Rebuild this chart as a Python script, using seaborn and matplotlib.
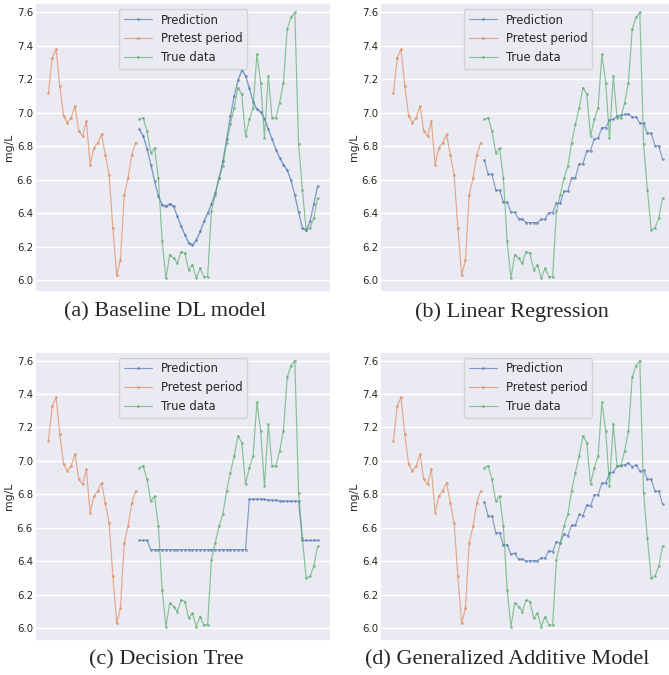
import matplotlib
matplotlib.use("Agg")
import matplotlib.pyplot as plt
import seaborn as sns
import numpy as np

sns.set_theme(style="darkgrid")

# ---- data ----
pretest = [7.12, 7.33, 7.38, 7.16, 6.98, 6.94, 6.97, 7.04, 6.89, 6.86, 6.95, 6.69,
           6.79, 6.82, 6.87, 6.75, 6.63, 6.31, 6.03, 6.12, 6.51, 6.61, 6.75, 6.82]
true_data = [6.96, 6.97, 6.89, 6.76, 6.79, 6.61, 6.23, 6.01, 6.15, 6.13, 6.10, 6.17,
             6.16, 6.06, 6.09, 6.01, 6.07, 6.02, 6.02, 6.41, 6.51, 6.61, 6.68, 6.82,
             6.93, 7.03, 7.15, 7.11, 6.86, 6.96, 7.03, 7.35, 7.18, 6.85, 7.22, 6.97,
             6.97, 7.06, 7.18, 7.50, 7.57, 7.60, 6.81, 6.54, 6.30, 6.31, 6.37, 6.49]
pred_dl = [6.90, 6.86, 6.785, 6.69, 6.59, 6.50, 6.45, 6.44, 6.455, 6.44, 6.38, 6.32,
           6.27, 6.22, 6.21, 6.24, 6.29, 6.35, 6.40, 6.455, 6.52, 6.61, 6.71, 6.84,
           6.98, 7.10, 7.195, 7.255, 7.22, 7.145, 7.065, 7.02, 7.005, 6.965, 6.90, 6.84,
           6.78, 6.73, 6.69, 6.655, 6.595, 6.505, 6.405, 6.31, 6.30, 6.35, 6.455, 6.56]
pred_lr = [6.717, 6.632, 6.632, 6.536, 6.536, 6.465, 6.465, 6.405, 6.405, 6.365, 6.365, 6.343,
           6.343, 6.343, 6.343, 6.363, 6.363, 6.403, 6.403, 6.46, 6.46, 6.53, 6.53, 6.612,
           6.612, 6.694, 6.694, 6.773, 6.773, 6.845, 6.849, 6.911, 6.911, 6.957, 6.96, 6.98,
           6.984, 6.99, 6.992, 6.975, 6.975, 6.937, 6.937, 6.877, 6.877, 6.803, 6.803, 6.722]
pred_dt = [6.525, 6.525, 6.525, 6.47, 6.47, 6.47, 6.47, 6.47, 6.47, 6.47, 6.47, 6.47,
           6.47, 6.47, 6.47, 6.47, 6.47, 6.47, 6.47, 6.47, 6.47, 6.47, 6.47, 6.47,
           6.47, 6.47, 6.47, 6.47, 6.47, 6.772, 6.772, 6.772, 6.772, 6.770, 6.768, 6.766,
           6.764, 6.762, 6.76, 6.76, 6.76, 6.76, 6.76, 6.525, 6.525, 6.525, 6.525, 6.525]
pred_gam = [6.754, 6.671, 6.671, 6.571, 6.571, 6.497, 6.499, 6.444, 6.448, 6.412, 6.416, 6.40,
            6.404, 6.404, 6.404, 6.422, 6.418, 6.464, 6.458, 6.517, 6.51, 6.563, 6.553, 6.615,
            6.615, 6.68, 6.672, 6.738, 6.73, 6.798, 6.798, 6.868, 6.868, 6.927, 6.933, 6.969,
            6.973, 6.977, 6.987, 6.965, 6.977, 6.939, 6.943, 6.891, 6.891, 6.82, 6.82, 6.74]
dl_band = 0.009

captions = ["(a) Baseline DL model", "(b) Linear Regression",
            "(c) Decision Tree", "(d) Generalized Additive Model"]
series_labels = ["Prediction", "Pretest period", "True data"]
yticks = [6.0, 6.2, 6.4, 6.6, 6.8, 7.0, 7.2, 7.4, 7.6]

pre_x = np.arange(len(pretest))
test_x = np.arange(len(pretest), len(pretest) + len(true_data))

pal = sns.color_palette("deep")
c_pred, c_pre, c_true = pal[0], pal[1], pal[2]

W, H = 669, 675
fig = plt.figure(figsize=(W / 100, H / 100), dpi=100)
fig.patch.set_facecolor("white")

# pixel rects: left, top, right, bottom
rects = [(35, 3, 331, 292), (380, 3, 676, 292), (35, 352, 331, 641), (380, 352, 676, 641)]
ylims = [(5.928, 7.656), (5.928, 7.656), (5.924, 7.651), (5.924, 7.651)]
preds = [pred_dl, pred_lr, pred_dt, pred_gam]
cap_pos = [(165, 312), (512, 312), (166, 660), (507, 660)]

kw = dict(marker=".", markersize=4, linewidth=0.85, alpha=0.65, markeredgewidth=0)

for i in range(4):
    l, t, r, b = rects[i]
    ax = fig.add_axes([l / W, 1 - b / H, (r - l) / W, (b - t) / H])
    sns.lineplot(x=test_x, y=preds[i], ax=ax, color=c_pred, label=series_labels[0], **kw)
    if i == 0:
        ax.fill_between(test_x, np.array(pred_dl) - dl_band, np.array(pred_dl) + dl_band,
                        color=c_pred, alpha=0.25, linewidth=0)
    sns.lineplot(x=pre_x, y=pretest, ax=ax, color=c_pre, label=series_labels[1], **kw)
    sns.lineplot(x=test_x, y=true_data, ax=ax, color=c_true, label=series_labels[2], **kw)
    ax.set_xlim(-3.55, 71 + 3.55)
    ax.set_ylim(*ylims[i])
    ax.set_xticks([])
    ax.set_yticks(yticks)
    ax.set_yticklabels([f"{v:.1f}" for v in yticks], fontsize=7.3)
    ax.tick_params(axis="y", length=0, pad=1.5)
    ax.set_xlabel("")
    ax.set_ylabel("mg/L", fontsize=7.8, labelpad=2)
    ax.legend(loc="upper center", fontsize=8.4, handlelength=2.4, borderaxespad=0.5)
    fig.text(cap_pos[i][0] / W, 1 - cap_pos[i][1] / H, captions[i], ha="center", va="center",
             fontsize=16, family="Liberation Serif")

fig.savefig("out.png", dpi=100)
